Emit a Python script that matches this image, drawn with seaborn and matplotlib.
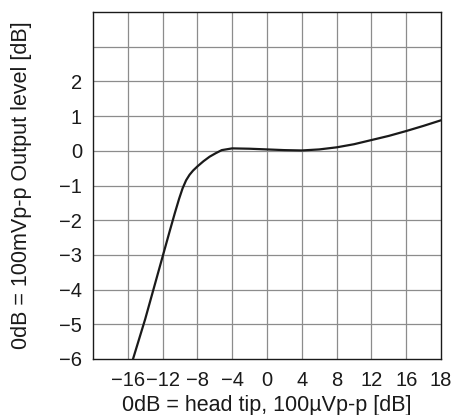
import seaborn as sns
import matplotlib.pyplot as plt
import pandas as pd

# curve (x in grid units, last grid line labelled 18)
x_vals = [-15.4, -14.0, -13.0, -12.0, -11.2, -10.6, -10.1, -9.7, -9.3, -8.9, -8.5, -8.0,
          -7.3, -6.6, -5.9, -5.2, -4.0, -2.0, 0.0, 2.0, 4.0, 6.0, 8.0,
          10.0, 12.0, 14.0, 16.0, 18.0, 20.0]
y_vals = [-6.0, -4.85, -3.95, -3.05, -2.33, -1.8, -1.38, -1.08, -0.85, -0.69, -0.57, -0.45,
          -0.3, -0.17, -0.07, 0.02, 0.07, 0.06, 0.04, 0.02, 0.01, 0.04, 0.1,
          0.19, 0.31, 0.43, 0.57, 0.72, 0.88]

x_ticks = [-16, -12, -8, -4, 0, 4, 8, 12, 16, 20]
x_labels = ["\u221216", "\u221212", "\u22128", "\u22124", "0", "4", "8", "12", "16", "18"]
y_ticks = [-6, -5, -4, -3, -2, -1, 0, 1, 2]

df = pd.DataFrame({"x": x_vals, "y": y_vals})

sns.set_style("white")
plt.rcParams["font.family"] = ["Liberation Sans", "DejaVu Sans"]

fig = plt.figure(figsize=(4.57, 4.15), dpi=100)
ax = fig.add_axes([0.2035, 0.135, 0.7615, 0.836])

# grid lines every 4 on x, every 1 on y
for gx in range(-16, 20, 4):
    ax.axvline(gx, color="#8c8c8c", lw=0.9, zorder=0)
for gy in range(-5, 4):
    ax.axhline(gy, color="#8c8c8c", lw=0.9, zorder=0)

sns.lineplot(data=df, x="x", y="y", color="#1a1a1a", lw=1.6, ax=ax, sort=False)

ax.set_xlim(-20, 20)
ax.set_ylim(-6, 4)
ax.set_xticks(x_ticks)
ax.set_xticklabels(x_labels)
ax.set_yticks(y_ticks)
ax.tick_params(axis="both", length=0, labelsize=14.5, colors="#1a1a1a")
ax.tick_params(axis="x", pad=9)
ax.tick_params(axis="y", pad=8)

for s in ax.spines.values():
    s.set_color("#1a1a1a")
    s.set_linewidth(1.0)

ax.set_xlabel("0dB = head tip, 100\u00b5Vp-p [dB]", fontsize=15.5, color="#1a1a1a", labelpad=3)
ax.set_ylabel("0dB = 100mVp-p Output level [dB]", fontsize=15.5, color="#1a1a1a", labelpad=19)

fig.savefig("out.png", dpi=100)
